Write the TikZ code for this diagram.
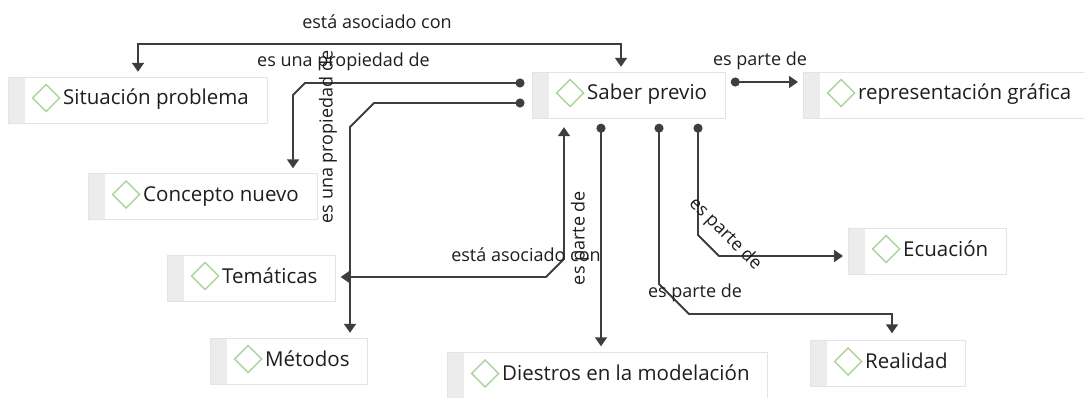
\documentclass[tikz,border=0pt]{standalone}
\usepackage{fontspec}
\setmainfont{Open Sans}
\usepackage{tikz}
\usetikzlibrary{arrows.meta,calc}
\definecolor{boxline}{HTML}{E3E3E3}
\definecolor{stripgray}{HTML}{ECECEC}
\definecolor{diagreen}{HTML}{A9D49C}
\definecolor{linegray}{HTML}{3E3E3E}
\definecolor{textblack}{HTML}{1E1E1E}
\tikzset{
    code-box/.style = {draw=boxline, fill=white, rectangle, anchor=west, minimum height=46pt, inner xsep=18pt, inner ysep=0pt, text height=14pt, text depth=4pt, text=textblack, font=\fontsize{20.5}{24}\selectfont, execute at begin node={\hspace*{37pt}},
        path picture={
            \fill[stripgray] (path picture bounding box.north west) rectangle ($(path picture bounding box.south west)+(17,0)$);
            \draw[diagreen, line width=1.4pt] ($(path picture bounding box.west)+(24.5,-2)$) -- ++(13.5,-13.5) -- ++(13.5,13.5) -- ++(-13.5,13.5) -- cycle;
        }},
    rel-line/.style = {draw=linegray, line width=1.8pt},
    rel-dot/.style = {rel-line, {Circle[length=9pt]}-{Triangle[length=9pt,width=12pt]}},
    rel-both/.style = {rel-line, {Triangle[length=9pt,width=12pt]}-{Triangle[length=9pt,width=12pt]}},
    rel-label/.style = {font=\fontsize{18}{21}\selectfont, text=textblack, inner sep=0pt},
}
\begin{document}
\begin{tikzpicture}[x=1pt, y=-1pt]
\useasboundingbox (0,0) rectangle (1084,398);
\fill[white] (0,0) rectangle (1084,398);

% codes
\node[code-box] (sit) at (8,100) {Situación problema};
\node[code-box] (saber) at (532,95) {Saber previo};
\node[code-box] (repr) at (803,95) {representación gráfica};
\node[code-box] (concepto) at (88,196.5) {Concepto nuevo};
\node[code-box] (tematicas) at (167,278) {Temáticas};
\node[code-box] (metodos) at (210,361) {Métodos};
\node[code-box] (diestros) at (447,375.5) {Diestros en la modelación};
\node[code-box] (ecuacion) at (848,251) {Ecuación};
\node[code-box] (realidad) at (810,363.5) {Realidad};

% relations
\draw[rel-both] ($(sit.north west)+(130,-5)$) |- ($(saber.north west)+(89,-28)$) -- ($(saber.north west)+(89,-5)$);
\draw[rel-dot] ($(saber.west)+(-7.5,-12)$) -- (305,83) -- (293,95) -- ($(concepto.north west)+(205,-5)$);
\draw[rel-dot] ($(saber.west)+(-7.5,8)$) -- (374,103) -- (350,127) -- ($(metodos.north west)+(140,-5)$);
\draw[rel-dot] ($(saber.east)+(5.5,-13)$) -- ($(repr.west)+(-5,-13)$);
\draw[rel-both] ($(saber.south west)+(32,9)$) -- (564,259) -- (546,277) -- ($(tematicas.east)+(5,-1)$);
\draw[rel-dot] ($(saber.south west)+(69,5.5)$) -- ($(diestros.north west)+(154,-6)$);
\draw[rel-dot] ($(saber.south west)+(127,5.5)$) -- (659,284) -- (689,314) -| ($(realidad.north west)+(82,-7)$);
\draw[rel-dot] ($(saber.south west)+(166,5.5)$) -- (698,235) -- (719,256) -- ($(ecuacion.west)+(-5,5)$);

% labels
\node[rel-label] (l1) at (377,22) {está asociado con};
\node[rel-label] (l2) at (343.5,62) {es una propiedad de};
\node[rel-label, rotate=90] (l3) at (328,137) {es una propiedad de};
\node[rel-label] (l4) at (760,61) {es parte de};
\node[rel-label] (l5) at (526,255) {está asociado con};
\node[rel-label, rotate=90] (l6) at (580,238) {es parte de};
\node[rel-label] (l7) at (695,293) {es parte de};
\node[rel-label, rotate=-45] (l8) at (725,234) {es parte de};
\end{tikzpicture}
\end{document}
